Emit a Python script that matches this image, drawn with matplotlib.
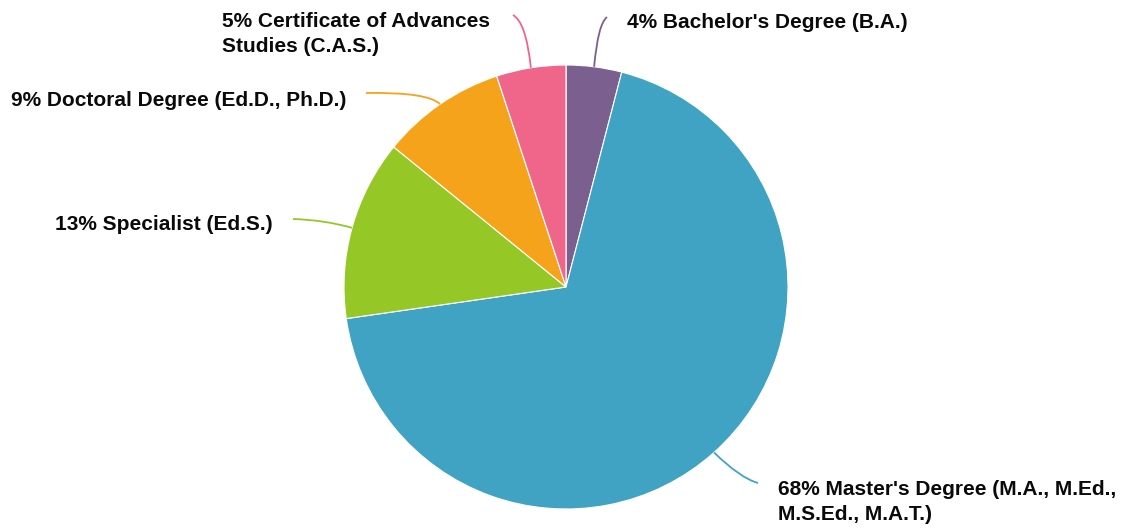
import matplotlib
matplotlib.use("Agg")
import matplotlib.pyplot as plt
import numpy as np
from matplotlib.path import Path
from matplotlib.patches import PathPatch

labels = ["4% Bachelor's Degree (B.A.)",
          "68% Master's Degree (M.A., M.Ed.,\nM.S.Ed., M.A.T.)",
          "13% Specialist (Ed.S.)",
          "9% Doctoral Degree (Ed.D., Ph.D.)",
          "5% Certificate of Advances\nStudies (C.A.S.)"]
values = [4, 68, 13, 9, 5]
colors = ["#7B5F8E", "#40A3C3", "#95C727", "#F5A31B", "#F0668A"]

W, H = 1124, 529
fig = plt.figure(figsize=(W / 100, H / 100), dpi=100)
ax = fig.add_axes([0, 0, 1, 1])
ax.set_xlim(0, W)
ax.set_ylim(0, H)
ax.set_aspect("equal")
ax.axis("off")

cx, cy, R = 566, H - 287, 222
wedges, _ = ax.pie(values, colors=colors, startangle=90, counterclock=False,
                   center=(cx, cy), radius=R,
                   wedgeprops=dict(edgecolor="white", linewidth=0.8),
                   frame=True)
ax.set_xlim(0, W)
ax.set_ylim(0, H)
ax.axis("off")

# layout for labels: (control point px, end point px, text pos px, ha)
layout = [
    ((598, 24), (607, 17), (627, 22), "left"),
    ((740, 478), (758, 483), (778, 502), "left"),
    ((325, 220), (293, 219), (273, 225), "right"),
    ((428, 92), (366, 93), (346, 100), "right"),
    ((526, 22), (513, 15), (490, 34), "right"),
]

for w, lab, col, (ctrl, end, tpos, ha) in zip(wedges, labels, colors, layout):
    ang = np.deg2rad((w.theta1 + w.theta2) / 2)
    sx, sy = cx + R * np.cos(ang), cy + R * np.sin(ang)
    verts = [(sx, sy), (ctrl[0], H - ctrl[1]), (end[0], H - end[1])]
    p = Path(verts, [Path.MOVETO, Path.CURVE3, Path.CURVE3])
    ax.add_patch(PathPatch(p, facecolor="none", edgecolor=col, lw=1.3))
    ax.text(tpos[0], H - tpos[1], lab, ha=ha, va="center", multialignment="left",
            fontsize=15, fontweight="bold", family="Liberation Sans",
            color="#0a0a0a", linespacing=1.42)

fig.savefig("out.png", dpi=100)
